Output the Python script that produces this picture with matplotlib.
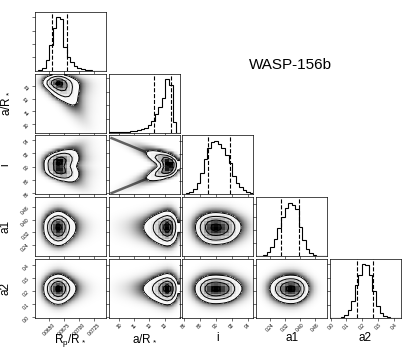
import numpy as np
import matplotlib
matplotlib.use('Agg')
import matplotlib.pyplot as plt
from matplotlib.colors import LinearSegmentedColormap
from matplotlib.ticker import MaxNLocator

plt.rcParams['font.family'] = ['Liberation Sans', 'DejaVu Sans']
plt.rcParams['mathtext.default'] = 'regular'

labels = [r'R$_p$/R$_*$', r'a/R$_*$', 'i', 'a1', 'a2']
ranges = [(0.0627, 0.0745), (9.3, 14.0), (85.8, 94.7), (0.165, 0.545), (-0.005, 0.445)]
ticks = [[0.0650, 0.0675, 0.0700, 0.0725],
         [10, 11, 12, 13],
         [86, 88, 90, 92, 94],
         [0.24, 0.32, 0.40, 0.48],
         [0.0, 0.1, 0.2, 0.3, 0.4]]
tick_labels = [['0.0650', '0.0675', '0.0700', '0.0725'],
               ['10', '11', '12', '13'],
               ['86', '88', '90', '92', '94'],
               ['0.24', '0.32', '0.40', '0.48'],
               ['0.0', '0.1', '0.2', '0.3', '0.4']]

# marginal histograms, 20 bins across each range
hist_rp = [1, 2, 8, 33, 76, 128, 160, 156, 70, 42, 25, 14, 8, 5, 3, 2, 1, 0.5, 0.5, 0.5]
hist_ar = [0.5, 1, 1, 2, 2, 3, 4, 6, 8, 10, 14, 22, 33, 55, 75, 100, 157, 140, 30, 0]
hist_inc = [1, 3, 6, 15, 35, 65, 105, 140, 158, 161, 152, 140, 118, 95, 55, 35, 22, 14, 8, 4]
hist_a1 = [0.5, 1.5, 4, 12, 27, 52, 85, 118, 148, 163, 155, 145, 88, 48, 22, 10, 4, 1.5, 0.5, 0]
hist_a2 = [0, 0.5, 1.5, 4, 10, 25, 52, 98, 128, 160, 159, 128, 80, 35, 16, 7, 3, 1, 0.5, 0]

# dashed 16% / 84% lines
quantiles = [[0.0656, 0.0680], [12.31, 13.41], [88.97, 91.82], [0.300, 0.394], [0.166, 0.266]]

# grazing degeneracy, per a/R* bin: Rp/R* shift (bins) and i arm offset from i_mid (deg)
rp_shift = [9, 8, 8, 7, 7, 6, 6, 5, 5, 4, 4, 3, 2, 2, 1, 1, 0, 0, 0, 0]
inc_arm = [4.21, 4.00, 3.78, 3.56, 3.34, 3.13, 2.91, 2.69, 2.47, 2.25,
           2.03, 1.81, 1.59, 1.38, 1.16, 0.94, 0.72, 0.50, 0.28, 0.06]
inc_mid = 90.15
arm_spread = [-0.4, 0.0, 0.4]      # width of each arm (deg)
arm_share = [0.25, 0.5, 0.25]

nb = 20
hists = [np.array(h, float) for h in (hist_rp, hist_ar, hist_inc, hist_a1, hist_a2)]
edges = [np.linspace(lo, hi, nb + 1) for lo, hi in ranges]
centers = [0.5 * (e[1:] + e[:-1]) for e in edges]

# joint Rp/R* vs a/R*  (rows: a/R* bins, cols: Rp bins)
rp_n = hists[0] / hists[0].sum()
J = np.zeros((nb, nb))
for k in range(nb):
    s = rp_shift[k]
    J[k, s:] = hists[1][k] * rp_n[:nb - s]

arm = np.array(inc_arm)
ar_pts, rp_pts, inc_a, inc_r, w_a, w_r = [], [], [], [], [], []
for sign in (1, -1):
    for off, share in zip(arm_spread, arm_share):
        inc_k = inc_mid + sign * (arm + off)
        ar_pts.append(centers[1])
        inc_a.append(inc_k)
        w_a.append(hists[1] * share / 2)
        rp_pts.append(np.tile(centers[0], nb))
        inc_r.append(np.repeat(inc_k, nb))
        w_r.append(J.ravel() * share / 2)
H_inc_ar = np.histogram2d(np.concatenate(inc_a), np.concatenate(ar_pts),
                          bins=[edges[2], edges[1]], weights=np.concatenate(w_a))[0]
H_inc_rp = np.histogram2d(np.concatenate(inc_r), np.concatenate(rp_pts),
                          bins=[edges[2], edges[0]], weights=np.concatenate(w_r))[0]

special = {(1, 0): J, (2, 0): H_inc_rp, (2, 1): H_inc_ar}

levels = 1.0 - np.exp(-0.5 * np.arange(0.5, 2.1, 0.5) ** 2)
white_cmap = LinearSegmentedColormap.from_list('white_cmap', [(1, 1, 1), (1, 1, 1)], N=2)
dens_cmap = LinearSegmentedColormap.from_list('dens_cmap', [(0, 0, 0, 1), (1, 1, 1, 0)])
kern = np.array([0.054, 0.244, 0.403, 0.244, 0.054])


def smooth(H):
    H = np.apply_along_axis(lambda r: np.convolve(r, kern, mode='same'), 0, H)
    return np.apply_along_axis(lambda r: np.convolve(r, kern, mode='same'), 1, H)


def draw2d(ax, H, xe, ye):
    H = smooth(H)
    flat = np.sort(H.ravel())[::-1]
    cum = np.cumsum(flat)
    cum /= cum[-1]
    V = []
    for lv in levels:
        sel = flat[cum <= lv]
        V.append(sel[-1] if len(sel) else flat[0])
    V = np.sort(V)
    xc = 0.5 * (xe[1:] + xe[:-1])
    yc = 0.5 * (ye[1:] + ye[:-1])
    dx, dy = xc[1] - xc[0], yc[1] - yc[0]
    X2 = np.concatenate([xc[0] + np.array([-2, -1]) * dx, xc, xc[-1] + np.array([1, 2]) * dx])
    Y2 = np.concatenate([yc[0] + np.array([-2, -1]) * dy, yc, yc[-1] + np.array([1, 2]) * dy])
    H2 = np.full((nb + 4, nb + 4), H.min())
    H2[2:-2, 2:-2] = H
    H2[2:-2, 1] = H[:, 0]
    H2[2:-2, -2] = H[:, -1]
    H2[1, 2:-2] = H[0]
    H2[-2, 2:-2] = H[-1]
    H2[1, 1], H2[1, -2], H2[-2, 1], H2[-2, -2] = H[0, 0], H[0, -1], H[-1, 0], H[-1, -1]

    # cloud of samples outside the contours
    rgba = np.zeros(H.shape + (4,))
    rgba[..., 3] = np.clip(0.9 * (H / V[0]) ** 1.2, 0, 0.9)
    ax.imshow(rgba, extent=(xe[0], xe[-1], ye[0], ye[-1]), origin='lower',
              aspect='auto', interpolation='bilinear', zorder=0)
    ax.contourf(X2, Y2, H2, [V[0], H.max() * 1.01], cmap=white_cmap, antialiased=False, zorder=1)
    ax.pcolormesh(xe, ye, H.max() - H, cmap=dens_cmap, zorder=2)
    ax.contour(X2, Y2, H2, V, colors='k', linewidths=0.7, zorder=3)


fig, axes = plt.subplots(5, 5, figsize=(4.15, 3.48), dpi=100)
fig.subplots_adjust(left=0.084, right=0.966, bottom=0.086, top=0.966, wspace=0.039, hspace=0.047)

for i in range(5):
    for j in range(5):
        ax = axes[i, j]
        if j > i:
            ax.set_axis_off()
            continue
        if i == j:
            ax.stairs(hists[i], edges[i], color='k', lw=0.8)
            ax.set_ylim(0, 1.1 * hists[i].max())
            for q in quantiles[i]:
                ax.axvline(q, ls='--', color='k', lw=0.8)
            ax.yaxis.set_major_locator(MaxNLocator(5, prune='lower'))
            ax.set_yticklabels([])
        else:
            H = special.get((i, j), np.outer(hists[i], hists[j]))
            draw2d(ax, H, edges[j], edges[i])
            if (i, j) == (2, 1):
                # the two thin arms of the i - a/R* degeneracy
                for sign in (1, -1):
                    ax.plot(centers[1], inc_mid + sign * arm, color='k', lw=1.8, alpha=0.6,
                            zorder=0.5, solid_capstyle='butt')
            ax.set_ylim(ranges[i])
            ax.set_yticks(ticks[i])
            if j == 0:
                ax.set_yticklabels(tick_labels[i], rotation=45)
                ax.set_ylabel(labels[i], fontsize=8.5)
                ax.yaxis.set_label_coords(-0.33, 0.5)
            else:
                ax.set_yticklabels([])
        ax.set_xlim(ranges[j])
        ax.set_xticks(ticks[j])
        if i == 4:
            ax.set_xticklabels(tick_labels[j], rotation=45)
            ax.set_xlabel(labels[j], fontsize=8.5)
            ax.xaxis.set_label_coords(0.5, -0.24)
        else:
            ax.set_xticklabels([])
        ax.tick_params(labelsize=3.5, length=2, width=0.4, pad=1)
        for sp in ax.spines.values():
            sp.set_linewidth(0.5)

fig.text(0.70, 0.813, 'WASP-156b', fontsize=11, ha='center', va='center')

fig.savefig('out.png', dpi=100)
